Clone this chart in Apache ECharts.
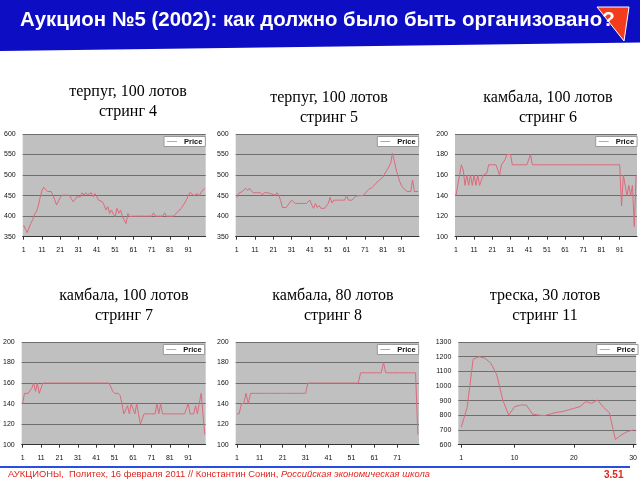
<!DOCTYPE html>
<html><head><meta charset="utf-8">
<script src="https://cdn.jsdelivr.net/npm/echarts@6/dist/echarts.min.js"></script>
<style>html,body{margin:0;padding:0;background:#fff}#c{width:640px;height:480px}</style>
</head><body><div id="c"></div>
<script>
// ---- data ----
const slideTitle = 'Аукцион №5 (2002): как должно было быть организовано?';
const chartTitles = [
  ['терпуг, 100 лотов', 'стринг 4'],
  ['терпуг, 100 лотов', 'стринг 5'],
  ['камбала, 100 лотов', 'стринг 6'],
  ['камбала, 100 лотов', 'стринг 7'],
  ['камбала, 80 лотов', 'стринг 8'],
  ['треска, 30 лотов', 'стринг 11']
];
const seriesName = 'Price';
const yTicksTerpug = [350, 400, 450, 500, 550, 600];
const yTicksKambala = [100, 120, 140, 160, 180, 200];
const yTicksTreska = [600, 700, 800, 900, 1000, 1100, 1200, 1300];

const string4 = [378,368,360,372,383,392,405,411,425,445,
  462,470,465,460,456,460,451,440,427,425,
  445,451,451,451,451,451,443,435,440,447,
  451,447,457,451,457,452,454,457,447,455,
  451,439,439,435,427,415,423,407,415,405,
  399,419,407,415,399,402,382,407,399,395,
  400,400,400,400,400,400,400,400,400,400,
  400,408,400,400,400,400,400,408,400,400,
  400,400,400,405,410,410,418,425,432,440,
  450,458,458,450,450,455,450,458,462,468];
const string5 = [445,455,457,460,462,468,462,468,462,457,
  457,457,455,457,452,457,457,457,457,454,
  457,451,457,451,438,421,425,421,427,431,
  439,439,431,431,431,431,431,431,431,431,
  439,427,419,431,421,426,419,419,419,419,
  431,446,432,439,439,439,439,439,439,439,
  451,439,439,439,439,449,449,450,450,450,
  450,460,465,468,470,475,480,484,488,492,
  496,505,512,520,528,553,535,515,498,484,
  474,468,464,460,460,460,488,460,460,460];
const string6 = [140,150,160,170,165,150,160,150,160,150,
  160,150,160,150,155,160,160,162,170,170,
  170,170,170,165,160,170,170,175,180,180,
  180,170,170,170,170,170,170,170,170,170,
  170,180,170,170,170,170,170,170,170,170,
  170,170,170,170,170,170,170,170,170,170,
  170,170,170,170,170,170,170,170,170,170,
  170,170,170,170,170,170,170,170,170,170,
  170,170,170,170,170,170,170,170,170,170,
  170,130,160,150,140,150,140,150,110,160];
const string7 = [140,150,150,150,150,155,160,152,160,150,
  150,160,160,160,160,160,160,160,160,160,
  160,160,160,160,160,160,160,160,160,160,
  160,160,160,160,160,160,160,160,160,160,
  160,160,160,160,160,160,160,160,160,152,
  150,150,150,148,140,130,130,138,130,140,
  140,130,140,130,120,120,130,130,130,130,
  130,130,130,140,130,140,130,130,130,130,
  130,130,130,130,130,130,130,130,130,130,
  140,130,130,130,138,130,140,150,130,110];
const string8 = [130,130,140,140,150,140,150,150,150,150,
  150,150,150,150,150,150,150,150,150,150,
  150,150,150,150,150,150,150,150,150,150,
  150,160,160,160,160,160,160,160,160,160,
  160,160,160,160,160,160,160,160,160,160,
  160,160,160,160,170,170,170,170,170,170,
  170,170,170,170,180,170,170,170,170,170,
  170,170,170,170,170,170,170,170,170,110];
const string11 = [720,855,1182,1200,1189,1155,1075,905,802,859,
  870,870,809,802,798,809,820,825,836,848,
  859,893,882,905,855,818,636,666,689,700];

// ---- layout ----
const panels = [
  {data: string4, ticks: yTicksTerpug, grid: [22.7,134,183,102.7], title: [123,77], legend: [164,136.5], every: 10},
  {data: string5, ticks: yTicksTerpug, grid: [235.7,134,183.3,102.7], title: [324,83], legend: [377.3,136.5], every: 10},
  {data: string6, ticks: yTicksKambala, grid: [455,134,182,102.7], title: [543,83], legend: [595.7,136.5], every: 10},
  {data: string7, ticks: yTicksKambala, grid: [21.7,342,184,102.7], title: [119,281], legend: [163.3,344.5], every: 10},
  {data: string8, ticks: yTicksKambala, grid: [235.7,342,183.3,102.7], title: [328,281], legend: [377.3,344.5], every: 10},
  {data: string11, ticks: yTicksTreska, grid: [458.3,342,178.7,102.7], title: [540,281], legend: [596.7,344.5], every: 'treska'}
];

const grids = [], xAxes = [], yAxes = [], series = [], legends = [], titles = [];
panels.forEach((p, i) => {
  const cats = p.data.map((_, k) => String(k + 1));
  grids.push({left: p.grid[0], top: p.grid[1], width: p.grid[2], height: p.grid[3],
    show: true, backgroundColor: '#c0c0c0', borderWidth: 0});
  const intervalFn = p.every === 'treska'
    ? (idx) => idx === 0 || (idx + 1) % 10 === 0
    : (idx) => idx % 10 === 0;
  xAxes.push({type: 'category', gridIndex: i, data: cats, boundaryGap: true,
    axisLine: {show: true, lineStyle: {color: '#333', width: 1}},
    axisTick: {show: true, interval: intervalFn, length: 3, alignWithLabel: true, lineStyle: {color: '#333'}},
    axisLabel: {interval: intervalFn, fontSize: 7, color: '#111', fontFamily: 'Liberation Sans', margin: 10}
  });
  const t = p.ticks;
  yAxes.push({type: 'value', gridIndex: i, min: t[0], max: t[t.length - 1], interval: t[1] - t[0],
    axisLine: {show: false}, axisTick: {show: false},
    axisLabel: {fontSize: 7, color: '#111', fontFamily: 'Liberation Sans', margin: 7, formatter: (v) => String(v)},
    splitLine: {show: true, lineStyle: {color: '#6e6e6e', width: 1}}
  });
  series.push({type: 'line', name: seriesName, xAxisIndex: i, yAxisIndex: i, data: p.data,
    symbol: 'none', smooth: false, lineStyle: {color: '#dc6a7c', width: 1}, itemStyle: {color: '#dc6a7c'},
    emphasis: {disabled: true}, animation: false});
  legends.push({data: [seriesName], left: p.legend[0], top: p.legend[1], orient: 'horizontal',
    backgroundColor: '#fff', borderColor: '#999', borderWidth: 1, padding: [1, 3, 1, 3],
    icon: 'rect', itemWidth: 10, itemHeight: 1, itemGap: 2, selectedMode: false,
    itemStyle: {color: '#c8a0a8'},
    textStyle: {fontSize: 7.5, fontWeight: 'bold', color: '#111', fontFamily: 'Liberation Sans', padding: [0,0,0,2]}});
  titles.push({text: chartTitles[i][0] + '\n' + chartTitles[i][1], left: p.title[0], top: p.title[1],
    textAlign: 'center',
    textStyle: {fontFamily: 'Liberation Serif', fontSize: 16, fontWeight: 'normal', color: '#000', lineHeight: 20}});
});

const chart = echarts.init(document.getElementById('c'), null, {renderer: 'canvas'});
chart.setOption({
  animation: false,
  backgroundColor: '#fff',
  title: titles,
  legend: legends,
  grid: grids,
  xAxis: xAxes,
  yAxis: yAxes,
  series: series,
  graphic: [
    {type: 'polygon', shape: {points: [[0,0],[640,0],[640,42.5],[0,51]]}, style: {fill: '#0d0dc4'}, z: 1},
    {type: 'polygon', shape: {points: [[597,7],[629,7],[624,41]]}, style: {fill: '#f23c1c', stroke: '#fff', lineWidth: 1}, z: 2},
    {type: 'text', left: 20, top: 10, z: 3,
      style: {text: slideTitle, fill: '#fff', font: 'bold 20.4px "Liberation Sans"'}},
    {type: 'rect', shape: {x: 0, y: 466, width: 630, height: 2}, style: {fill: '#2a4fe0'}, z: 1},
    {type: 'text', left: 8, top: 470, z: 3,
      style: {rich: {a: {fill: '#e0261e', fontSize: 9.4, fontFamily: 'Liberation Sans'},
                     b: {fill: '#e0261e', fontSize: 9.4, fontFamily: 'Liberation Sans', fontStyle: 'italic'}},
              text: '{a|АУКЦИОНЫ,  Политех, 16 февраля 2011 // Константин Сонин, }{b|Российская экономическая школа}'}},
    {type: 'text', left: 604, top: 470, z: 3,
      style: {text: '3.51', fill: '#e0261e', font: 'bold 10px "Liberation Sans"'}}
  ]
});
</script></body></html>
